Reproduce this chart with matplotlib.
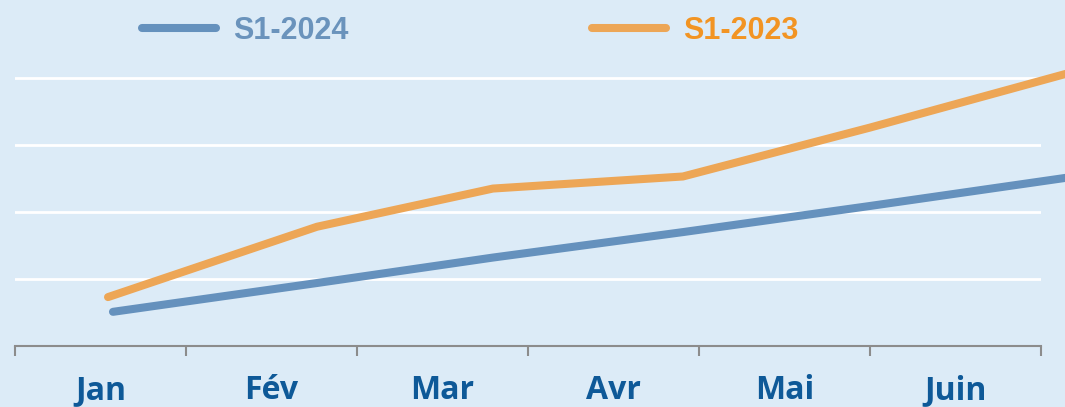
# Line chart: S1-2024 vs S1-2023 by month

import matplotlib.pyplot as plt

months = ["Jan", "Fév", "Mar", "Avr", "Mai", "Juin"]

# x positions of the line vertices (in month units, 0 = Jan)
x_2023 = [0.044, 1.266, 2.295, 3.406, 4.50, 5.70]
y_2023 = [0.73, 1.78, 2.35, 2.53, 3.26, 4.10]

x_2024 = [0.073, 1.266, 2.295, 3.406, 4.50, 5.70]
y_2024 = [0.51, 0.94, 1.32, 1.70, 2.09, 2.53]

bg = "#dcebf7"
blue = "#6591bd"
orange = "#eda656"

fig = plt.figure(figsize=(10.65, 4.07), dpi=100, facecolor=bg)
ax = fig.add_axes([15 / 1065, 61 / 407, 1026 / 1065, 346 / 407])
ax.set_facecolor(bg)

l1, = ax.plot(x_2024, y_2024, color=blue, lw=5.8, solid_capstyle="round",
              solid_joinstyle="round", clip_on=False, zorder=3, label="S1-2024")
l2, = ax.plot(x_2023, y_2023, color=orange, lw=5.8, solid_capstyle="round",
              solid_joinstyle="round", clip_on=False, zorder=3, label="S1-2023")

ax.set_xlim(-0.5, 5.5)
ax.set_ylim(0, 346 / 67)

# grid
ax.set_yticks([1, 2, 3, 4])
ax.yaxis.grid(True, color="white", lw=2)
ax.tick_params(axis="y", length=0, labelleft=False)
ax.set_axisbelow(True)

# x axis: boundary ticks + centred month labels
ax.set_xticks([i - 0.5 for i in range(7)])
ax.set_xticklabels([])
ax.tick_params(axis="x", which="major", length=7, width=1.5, color="#8c8c8c",
               direction="out")
ax.set_xticks(range(len(months)), minor=True)
ax.set_xticklabels(months, minor=True)
ax.tick_params(axis="x", which="minor", length=0, pad=20, labelsize=23,
               labelcolor="#0e5998")
for lab in ax.get_xticklabels(minor=True):
    lab.set_fontfamily("Open Sans")
    lab.set_fontweight("bold")

for s in ["top", "right", "left"]:
    ax.spines[s].set_visible(False)
ax.spines["bottom"].set_color("#8c8c8c")
ax.spines["bottom"].set_linewidth(1.5)

leg = fig.legend(handles=[l1, l2], loc="center left",
                 bbox_to_anchor=(142 / 1065, 1 - 31 / 407), ncol=2,
                 frameon=False, borderpad=0, borderaxespad=0,
                 handlelength=2.42, handletextpad=0.56, columnspacing=7.97,
                 prop={"family": "Liberation Sans", "weight": "bold", "size": 22})
for txt, c in zip(leg.get_texts(), ["#6a93bc", "#f29423"]):
    txt.set_color(c)

fig.savefig("out.png", dpi=100, facecolor=bg)
